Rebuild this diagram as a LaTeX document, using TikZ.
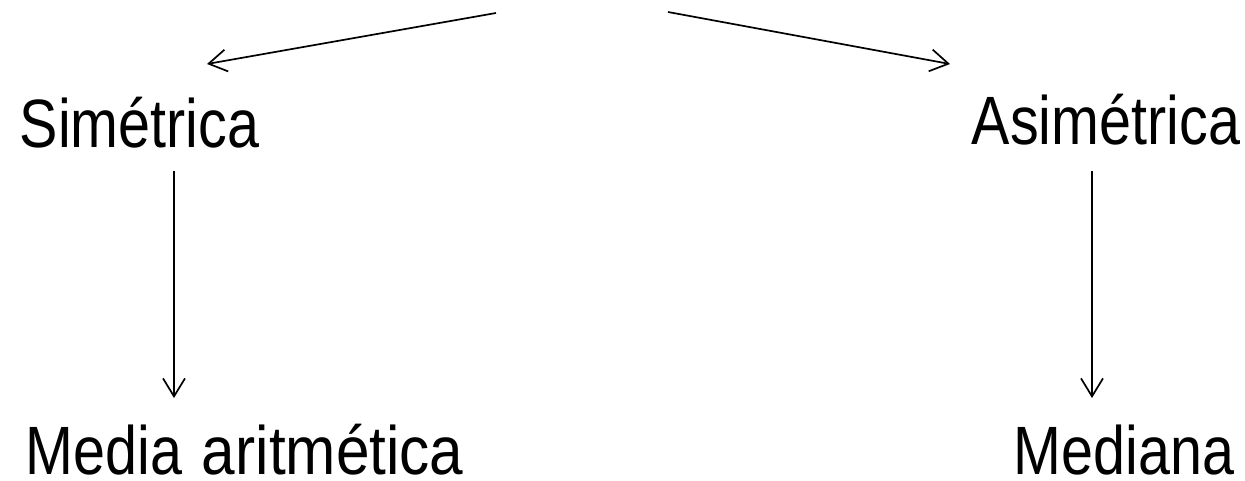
\documentclass[tikz,border=0pt]{standalone}
\usepackage{fontspec}
\setmainfont[FakeStretch=0.84]{Liberation Sans}
\usetikzlibrary{arrows.meta}
\begin{document}
\begin{tikzpicture}[x=1pt,y=-1pt,
  lbl/.style={inner sep=0pt,anchor=base,text depth=0pt,font=\fontsize{68.4}{80}\selectfont},
  conn/.style={line width=1.7pt,-{Straight Barb[length=18pt,width=22pt,line width=1.7pt]}}]
\useasboundingbox (0,0) rectangle (1245,480);
\node[lbl] (sim) at (139.5,147) {Simétrica};
\node[lbl] (asim) at (1106,144) {Asimétrica};
\node[lbl] (media) at (244.5,474) {Media\hspace{4pt} \scalebox{1.05}[1]{aritmética}};
\node[lbl] (mediana) at (1124,474) {Mediana};
\coordinate (rootL) at (496,13);
\coordinate (rootR) at (668,12);
\coordinate (tipL) at (207,64);
\coordinate (tipR) at (950,64);
\coordinate (simOut) at (174,171);
\coordinate (mediaIn) at (174,398);
\coordinate (asimOut) at (1092,171);
\coordinate (medianaIn) at (1092,398);
\draw[conn] (rootL) -- (tipL);
\draw[conn] (rootR) -- (tipR);
\draw[conn] (simOut) -- (mediaIn);
\draw[conn] (asimOut) -- (medianaIn);
\end{tikzpicture}
\end{document}
